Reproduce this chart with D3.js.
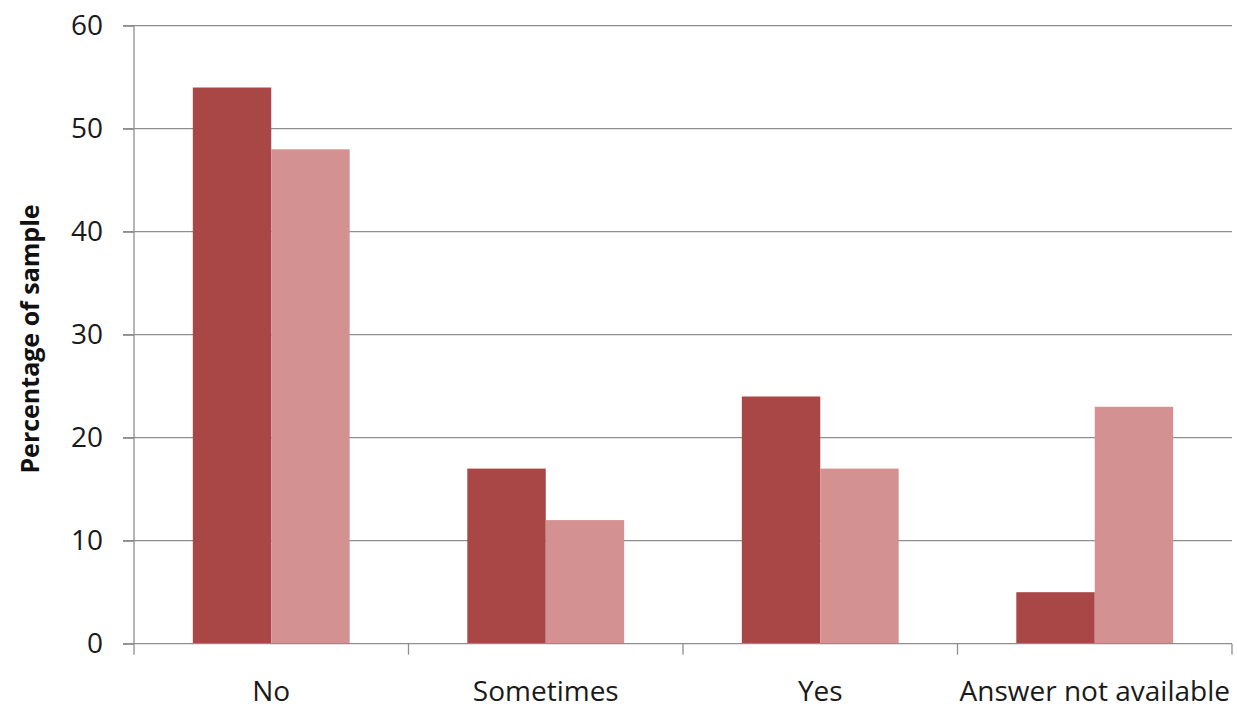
<!DOCTYPE html>
<html><head><meta charset="utf-8">
<script src="https://cdn.jsdelivr.net/npm/d3@7"></script>
<style>body{margin:0;background:#fff}svg{display:block}</style>
</head><body>
<svg id="c" width="1237" height="709"></svg>
<script>
const categories = ["No", "Sometimes", "Yes", "Answer not available"];
const series1 = [54, 17, 24, 5];
const series2 = [48, 12, 17, 23];
const yTicks = [0, 10, 20, 30, 40, 50, 60];
const yTitle = "Percentage of sample";

const svg = d3.select("#c");
const L = 134, R = 1232, T = 25.7, B = 643.7;
const font = "'Open Sans', sans-serif";
const x = d3.scaleBand().domain(categories).range([L, R]).paddingInner(0).paddingOuter(0);
const inner = d3.scaleBand().domain([0, 1]).range([0, x.bandwidth()]).paddingOuter(0.75).paddingInner(0);
const y = d3.scaleLinear().domain([0, 60]).range([B, T]);

// gridlines
svg.append("g").selectAll("line").data(yTicks.filter(d => d > 0)).join("line")
  .attr("x1", L - 11).attr("x2", R).attr("y1", d => y(d)).attr("y2", d => y(d))
  .attr("stroke", "#8e8e8e").attr("stroke-width", 1.3);

// bars
const data = categories.map((c, i) => ({c, v: [series1[i], series2[i]]}));
const colors = ["#a94646", "#d39191"];
const g = svg.append("g");
data.forEach(d => {
  d.v.forEach((v, k) => {
    g.append("rect").attr("x", x(d.c) + inner(k)).attr("width", inner.bandwidth())
      .attr("y", y(v)).attr("height", y(0) - y(v)).attr("fill", colors[k]);
  });
});

// y axis
const yAxis = d3.axisLeft(y).tickValues(yTicks).tickSize(11).tickPadding(20);
const ya = svg.append("g").attr("transform", `translate(${L},0)`).call(yAxis);
ya.select(".domain").attr("stroke", "#8e8e8e").attr("stroke-width", 1.3).attr("d", `M0,${T}V${B}`);
ya.selectAll(".tick line").attr("stroke", "#8e8e8e").attr("stroke-width", 1.3);
ya.selectAll(".tick text").attr("font-family", font).attr("font-size", 28).attr("fill", "#1a1a1a");

// x axis
const xAxis = d3.axisBottom(x).tickSize(0).tickPadding(37);
const xa = svg.append("g").attr("transform", `translate(0,${B})`).call(xAxis);
xa.select(".domain").attr("stroke", "#8e8e8e").attr("stroke-width", 1.3).attr("d", `M${L-11},0H${R}`);
xa.selectAll(".tick text").attr("font-family", font).attr("font-size", 28).attr("fill", "#1a1a1a");
// category separators
const seps = categories.map(c => x(c)).concat([R]);
xa.append("g").selectAll("line").data(seps).join("line")
  .attr("x1", d => d).attr("x2", d => d).attr("y1", 0).attr("y2", 11)
  .attr("stroke", "#8e8e8e").attr("stroke-width", 1.3);

// y title
svg.append("text").attr("transform", `translate(39,339) rotate(-90)`)
  .attr("text-anchor", "middle").attr("font-family", font).attr("font-weight", "bold")
  .attr("font-size", 25).attr("fill", "#111").text(yTitle);
</script>
</body></html>
